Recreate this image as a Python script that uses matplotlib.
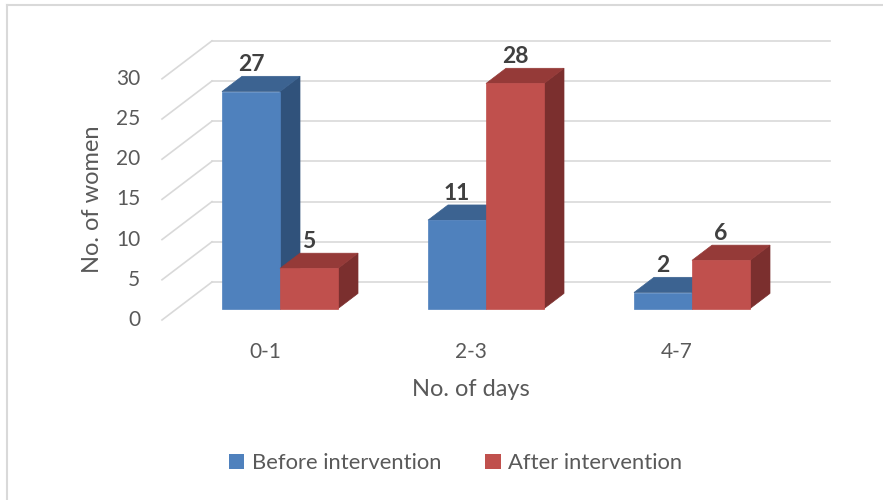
import numpy as np
import matplotlib.pyplot as plt
from matplotlib.patches import Polygon, Patch
from matplotlib.lines import Line2D

plt.rcParams['font.family'] = ['Lato', 'DejaVu Sans']

# data
categories = ['0-1', '2-3', '4-7']
before = [27, 11, 2]
after = [5, 28, 6]
series_names = ['Before intervention', 'After intervention']
yticks = [0, 5, 10, 15, 20, 25, 30]

# colours (front, top, side) like excel 3d shading
blue = ('#4F81BD', '#3C6391', '#30527B')
red = ('#C0504D', '#953A38', '#7B2F2E')
grid_c = '#d9d9d9'
text_c = '#595959'

# fake 3d layout: one category = 206 px, one value unit = 8.04 px
px_cat = 206.0
px_val = 8.04
dx = 50 / px_cat      # full depth offset in x
dy = 38 / px_val      # full depth offset in y
bw = 58 / px_cat      # bar width
d0, d1 = 0.3, 0.7     # bar front/back depth

fig = plt.figure(figsize=(8.83, 5), dpi=100)
ax = fig.add_axes([0, 0, 1, 1])
ax.set_xlim(-265 / px_cat, (883 - 265) / px_cat)
ax.set_ylim(-(500 - 320) / px_val, 320 / px_val)
ax.axis('off')

x_left = -0.5
x_right = len(categories) - 0.5

# walls
for v in yticks:
    ax.plot([x_left + dx, x_right + dx], [v + dy, v + dy], color=grid_c, lw=1.2, zorder=1)
    ax.plot([x_left, x_left + dx], [v, v + dy], color=grid_c, lw=1.2, zorder=1)
    ax.text(x_left - 0.105, v, str(v), ha='right', va='center', fontsize=15, color=text_c)


def box(x0, h, cols):
    x1 = x0 + bw
    fx, fy = d0 * dx, d0 * dy
    bx, by = d1 * dx, d1 * dy
    front = [(x0 + fx, fy), (x1 + fx, fy), (x1 + fx, h + fy), (x0 + fx, h + fy)]
    top = [(x0 + fx, h + fy), (x1 + fx, h + fy), (x1 + bx, h + by), (x0 + bx, h + by)]
    side = [(x1 + fx, fy), (x1 + bx, by), (x1 + bx, h + by), (x1 + fx, h + fy)]
    for pts, c in zip([side, top, front], [cols[2], cols[1], cols[0]]):
        ax.add_patch(Polygon(pts, closed=True, facecolor=c, edgecolor=c, lw=0.5, zorder=2))
    ax.text(x0 + bw / 2 + fx, h + by + 0.6, str(h), ha='center', va='baseline',
            fontsize=16.5, fontweight='bold', color='#404040', zorder=3)


for i in range(len(categories)):
    box(i - bw, before[i], blue)
    box(i, after[i], red)
    ax.text(i, -3.98, categories[i], ha='center', va='center', fontsize=15, color=text_c)

ax.text(1, -8.7, 'No. of days', ha='center', va='center', fontsize=17, color=text_c)
ax.text(-0.835, 15, 'No. of women', ha='center', va='center', rotation=90,
        fontsize=17, color=text_c)

handles = [Patch(facecolor=blue[0], label=series_names[0]),
           Patch(facecolor=red[0], label=series_names[1])]
fig.legend(handles=handles, loc='center', bbox_to_anchor=(0.516, 1 - 463 / 500), ncol=2,
           frameon=False, fontsize=15.8, labelcolor=text_c, handlelength=0.7,
           handleheight=0.7, handletextpad=0.35, columnspacing=2.0)

# chart border
fig.add_artist(Line2D([6.5 / 883, 1], [1 - 4.5 / 500] * 2, color=grid_c, lw=1.5))
fig.add_artist(Line2D([6.5 / 883] * 2, [0, 1 - 4.5 / 500], color=grid_c, lw=1.5))

fig.savefig('out.png', dpi=100)
